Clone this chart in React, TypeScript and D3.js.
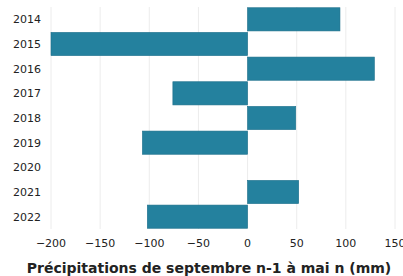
import { useEffect, useRef } from 'react';
import * as d3 from 'd3';

// Data
const years = ['2014', '2015', '2016', '2017', '2018', '2019', '2020', '2021', '2022'];
const precipitation = [94, -200, 129, -76, 49, -107, 0, 52, -102];
const xTicks = [-200, -150, -100, -50, 0, 50, 100, 150];

const App = () => {
  const svgRef = useRef<SVGSVGElement | null>(null);

  useEffect(() => {
    const svg = d3.select(svgRef.current);
    svg.selectAll('*').remove();

    const height = 276;
    const margin = { top: 7, right: 8, bottom: 47, left: 51 };
    const font = "'DejaVu Sans', 'Open Sans', sans-serif";

    const x = d3.scaleLinear()
      .domain([-200, 150])
      .range([margin.left, 395]);

    const y = d3.scaleBand()
      .domain(years)
      .range([margin.top, height - margin.bottom])
      .paddingInner(0.06)
      .paddingOuter(0.03);

    // Vertical gridlines
    svg.append('g')
      .selectAll('line')
      .data(xTicks)
      .enter()
      .append('line')
      .attr('x1', d => x(d))
      .attr('x2', d => x(d))
      .attr('y1', margin.top)
      .attr('y2', height - margin.bottom)
      .attr('stroke', '#ececec')
      .attr('stroke-width', 1);

    // Bars
    svg.append('g')
      .selectAll('rect')
      .data(years.map((yr, i) => ({ yr, v: precipitation[i] })))
      .enter()
      .append('rect')
      .attr('x', d => x(Math.min(0, d.v)))
      .attr('y', d => y(d.yr) as number)
      .attr('width', d => Math.abs(x(d.v) - x(0)))
      .attr('height', y.bandwidth())
      .attr('fill', '#24819e')
      .attr('stroke', '#1c6f8a')
      .attr('stroke-width', 0.6);

    // Y labels
    svg.append('g')
      .selectAll('text')
      .data(years)
      .enter()
      .append('text')
      .attr('x', 41)
      .attr('y', d => (y(d) as number) + y.bandwidth() / 2)
      .attr('dy', '0.35em')
      .attr('text-anchor', 'end')
      .style('font-family', font)
      .style('font-size', '11px')
      .style('fill', '#222')
      .text(d => d);

    // X tick labels (the last one runs off the right edge, as in the reference)
    svg.append('g')
      .selectAll('text')
      .data(xTicks)
      .enter()
      .append('text')
      .attr('x', d => x(d))
      .attr('y', 243)
      .attr('dy', '0.35em')
      .attr('text-anchor', 'middle')
      .style('font-family', font)
      .style('font-size', '11px')
      .style('fill', '#222')
      .text(d => (d < 0 ? '\u2212' + Math.abs(d) : String(d)));

    // Axis title
    svg.append('text')
      .attr('x', 209)
      .attr('y', 268)
      .attr('dy', '0.35em')
      .attr('text-anchor', 'middle')
      .style('font-family', font)
      .style('font-size', '14px')
      .style('font-weight', 'bold')
      .style('fill', '#222')
      .text('Précipitations de septembre n-1 à mai n (mm)');
  }, []);

  return (
    <svg
      ref={svgRef}
      width={403}
      height={276}
      style={{ position: 'absolute', left: 0, top: 0, background: '#fff' }}
    />
  );
};

export default App;
